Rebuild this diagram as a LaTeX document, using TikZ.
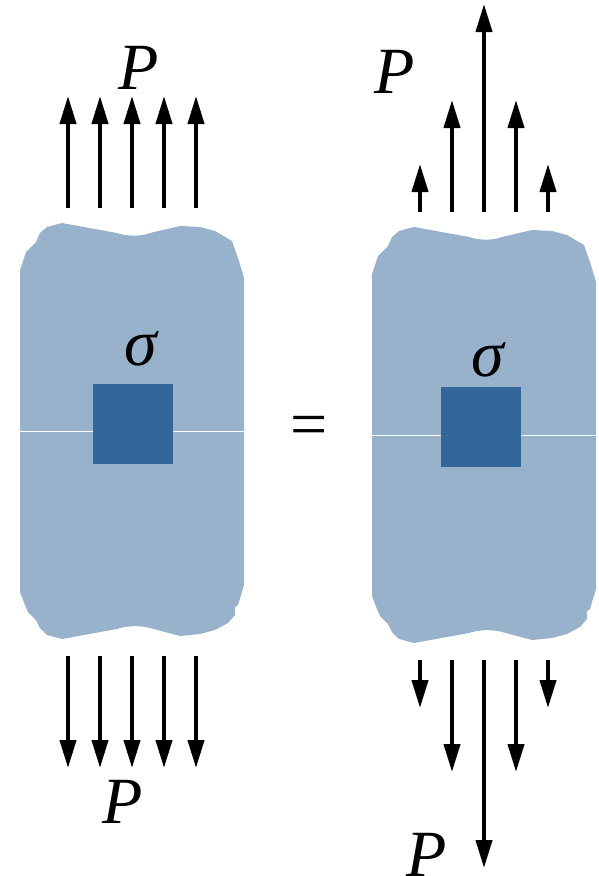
\documentclass[tikz,border=0pt]{standalone}
\usepackage{fontspec}
\setmainfont{Liberation Serif}
\usepackage{xcolor}
\usetikzlibrary{arrows.meta,positioning}
\definecolor{bodyblue}{HTML}{99B2CC}
\definecolor{cellblue}{HTML}{336699}

\newcommand{\specimen}{
    (20,270) -- (26,252) -- (36,242) -- (40,233) -- (47,227) -- (62,223) -- (117,233)
    .. controls (125,236) and (140,237) .. (150,233) -- (180,226) -- (200,227) -- (215,231) -- (232,241)
    -- (235,250) -- (238,258) -- (244,278) -- (244,585) -- (238,605) -- (235,607) -- (235,615)
    -- (228,623) -- (215,630) -- (200,634) -- (180,636) -- (150,628)
    .. controls (140,625) and (125,626) .. (117,629) -- (62,639) -- (47,635) -- (40,628)
    -- (36,620) -- (28,612) -- (25,605) -- (20,592) -- cycle
}

\begin{document}
\begin{tikzpicture}[
    x=1pt, y=-1pt,
    force/.style={draw=black, line width=4pt, -{Triangle[width=16pt,length=28pt]}},
    label/.style={inner sep=0pt, font=\fontsize{66}{66}\selectfont\itshape},
    stress/.style={rectangle, fill=cellblue, minimum size=80pt, inner sep=0pt, outer sep=0pt},
    cutline/.style={draw=white, line width=0.6pt}
]
\useasboundingbox (0,0) rectangle (598,876);

% left specimen
\fill [bodyblue] \specimen;
\coordinate (cutLeftA) at (20,431);
\coordinate (cutLeftB) at (244,431);
\draw [cutline] (cutLeftA) -- (cutLeftB);
\node [stress] (cellLeft) at (133,424) {};

% right specimen
\begin{scope}[xshift=352pt, yshift=-4pt]
\fill [bodyblue] \specimen;
\end{scope}
\coordinate (cutRightA) at (372,435);
\coordinate (cutRightB) at (596,435);
\draw [cutline] (cutRightA) -- (cutRightB);
\node [stress] (cellRight) at (481,427) {};

% uniform load
\foreach \i/\x in {1/68,2/100,3/132,4/164,5/196} {
    \coordinate (upS\i) at (\x,208);
    \coordinate (upE\i) at (\x,96);
    \coordinate (dnS\i) at (\x,656);
    \coordinate (dnE\i) at (\x,768);
    \draw [force] (upS\i) -- (upE\i);
    \draw [force] (dnS\i) -- (dnE\i);
}

% peaked load
\foreach \i/\x/\u/\d in {1/420/164/708,2/452/100/772,3/484/4/868,4/516/100/772,5/548/164/708} {
    \coordinate (rupS\i) at (\x,212);
    \coordinate (rupE\i) at (\x,\u);
    \coordinate (rdnS\i) at (\x,660);
    \coordinate (rdnE\i) at (\x,\d);
    \draw [force] (rupS\i) -- (rupE\i);
    \draw [force] (rdnS\i) -- (rdnE\i);
}

\node [label] (pTopLeft) at (139,68) {P};
\node [label] (pBotLeft) at (123,802) {P};
\node [label] (pTopRight) at (395,72) {P};
\node [label] (pBotRight) at (427,855) {P};
\node [label] (sigmaLeft) at (141,349) {σ};
\node [label] (sigmaRight) at (488,360) {σ};
\node [inner sep=0pt, font=\fontsize{66}{66}\selectfont] (equals) at (309,431) {=};

\end{tikzpicture}
\end{document}
